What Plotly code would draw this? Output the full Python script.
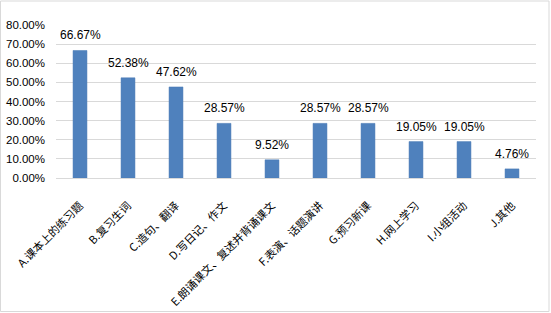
import plotly.graph_objects as go

categories = ["A.课本上的练习题", "B.复习生词", "C.造句、翻译", "D.写日记、作文",
              "E.朗诵课文、复述并背诵课文", "F.表演、话题演讲", "G.预习新课",
              "H.网上学习", "I.小组活动", "J.其他"]
values = [0.6667, 0.5238, 0.4762, 0.2857, 0.0952, 0.2857, 0.2857, 0.1905, 0.1905, 0.0476]
y_ticks = [0, 0.1, 0.2, 0.3, 0.4, 0.5, 0.6, 0.7, 0.8]

W, H = 551, 313
ml, mr, mt, mb = 56, 15, 25, 135
pw, ph = W - ml - mr, H - mt - mb

fig = go.Figure()
fig.add_trace(go.Bar(
    x=categories, y=values, width=0.29,
    marker=dict(color="#4f81bd", line=dict(color="#4a7ab5", width=0.5)),
    hoverinfo="skip",
))
for c, v in zip(categories, values):
    fig.add_annotation(x=c, y=v, text=f"{v*100:.2f}%", showarrow=False,
                       yanchor="bottom", yshift=6,
                       font=dict(family="Liberation Sans, Arial", size=12, color="#000000"))

fig.update_layout(
    width=W, height=H,
    margin=dict(l=ml, r=mr, t=mt, b=mb, pad=0, autoexpand=False),
    paper_bgcolor="white", plot_bgcolor="white",
    showlegend=False,
    bargap=0.7,
    font=dict(family="Noto Sans CJK SC", size=11, color="#000000"),
)
fig.update_xaxes(
    type="category", tickangle=-45, automargin=False,
    showline=True, linecolor="#d9d9d9", linewidth=1,
    ticks="", showgrid=False,
    tickfont=dict(family="Noto Sans CJK SC", size=11, color="#000000"),
    ticklabelstandoff=16,
)
fig.update_yaxes(
    range=[0, 0.8], tickvals=y_ticks, tickformat=".2%", automargin=False,
    showgrid=True, gridcolor="#d9d9d9", gridwidth=1,
    zeroline=False, showline=False, ticks="",
    tickfont=dict(family="Liberation Sans, Arial", size=11.5, color="#000000"),
    ticklabelstandoff=10,
)
# outer chart border
fig.add_shape(type="rect", xref="paper", yref="paper",
              x0=(0.5 - ml) / pw, x1=(549 - ml) / pw,
              y0=(mt + ph - 311.5) / ph, y1=(mt + ph - 1) / ph,
              line=dict(color="#d9d9d9", width=1), fillcolor="rgba(0,0,0,0)", layer="below")

fig.write_html("out.html", config={"displayModeBar": False, "staticPlot": True},
               post_script="document.body.style.margin='0px';document.body.style.overflow='hidden';")
